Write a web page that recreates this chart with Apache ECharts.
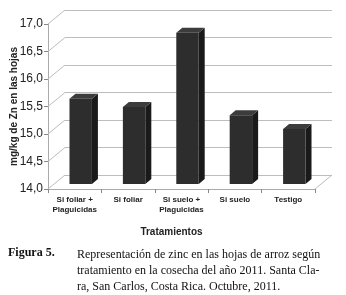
<!DOCTYPE html>
<html>
<head>
<meta charset="utf-8">
<script src="https://cdn.jsdelivr.net/npm/echarts@6/dist/echarts.min.js"></script>
<style>
  html, body { margin: 0; padding: 0; background: #fff; }
  #main { width: 346px; height: 295px; }
</style>
</head>
<body>
<div id="main"></div>
<script>
  // datos
  var tratamientos = ['Si foliar +\nPlaguicidas', 'Si foliar', 'Si suelo +\nPlaguicidas', 'Si suelo', 'Testigo'];
  var zinc = [15.55, 15.4, 16.75, 15.25, 15.0];
  var yTicks = [14, 14.5, 15, 15.5, 16, 16.5, 17];

  // desplazamiento de la pared del fondo (efecto 3D)
  var DX = 17, DY = -14;

  var myChart = echarts.init(document.getElementById('main'));

  var option = {
    backgroundColor: '#fff',
    animation: false,
    grid: [
      // pared del fondo
      { left: 48 + DX, top: 24 + DY, width: 267, height: 165, outerBoundsMode: 'none', containLabel: false },
      // plano frontal
      { left: 48, top: 24, width: 267, height: 165, outerBoundsMode: 'none', containLabel: false }
    ],
    xAxis: [
      {
        gridIndex: 0, type: 'category', data: tratamientos,
        show: false
      },
      {
        gridIndex: 1, type: 'category', data: tratamientos,
        axisLine: { lineStyle: { color: '#aaa', width: 1 } },
        axisTick: { show: true, alignWithLabel: false, length: 4, lineStyle: { color: '#888' } },
        axisLabel: {
          color: '#222', fontSize: 8, fontWeight: 'bold', fontFamily: 'Liberation Sans',
          lineHeight: 10, margin: 6, interval: 0
        },
        name: 'Tratamientos',
        nameLocation: 'middle',
        nameGap: 38,
        nameMoveOverlap: false,
        nameTextStyle: { color: '#222', fontSize: 10, fontWeight: 'bold', fontFamily: 'Liberation Sans', padding: [0, 20, 0, 0] }
      }
    ],
    yAxis: [
      {
        gridIndex: 0, type: 'value', min: 14, max: 17, interval: 0.5,
        axisLine: { show: false }, axisTick: { show: false }, axisLabel: { show: false },
        splitLine: { show: true, lineStyle: { color: '#bdbdbd', width: 1 } }
      },
      {
        gridIndex: 1, type: 'value', min: 14, max: 17, interval: 0.5,
        axisLine: { show: true, lineStyle: { color: '#aaa' } },
        axisTick: { show: true, length: 4, lineStyle: { color: '#888' } },
        splitLine: { show: false },
        axisLabel: {
          color: '#222', fontSize: 12, fontFamily: 'Liberation Sans', margin: 5,
          formatter: function (v) { return v.toFixed(1).replace('.', ','); }
        },
        name: 'mg/kg de Zn en las hojas',
        nameLocation: 'middle',
        nameGap: 29,
        nameRotate: 90,
        nameMoveOverlap: false,
        nameTextStyle: { color: '#222', fontSize: 10, fontWeight: 'bold', fontFamily: 'Liberation Sans' }
      }
    ],
    graphic: [
      {
        type: 'text', left: 8, top: 247,
        style: { text: 'Figura 5.', font: 'bold 12px "Liberation Serif"', fill: '#111' }
      },
      {
        type: 'text', left: 77, top: 247,
        style: {
          text: 'Representación de zinc en las hojas de arroz según\ntratamiento en la cosecha del año 2011. Santa Cla-\nra, San Carlos, Costa Rica. Octubre, 2011.',
          font: '12px "Liberation Serif"', fill: '#111', lineHeight: 16
        }
      }
    ],
    series: [
      {
        // lineas oblicuas de la pared lateral y del piso
        type: 'custom',
        xAxisIndex: 1, yAxisIndex: 1,
        silent: true,
        data: yTicks,
        renderItem: function (params, api) {
          var cs = params.coordSys;
          var p = api.coord([0, api.value(0)]);
          var children = [{
            type: 'line',
            shape: { x1: cs.x, y1: p[1], x2: cs.x + DX, y2: p[1] + DY },
            style: { stroke: '#bdbdbd', lineWidth: 1 }
          }];
          if (params.dataIndex === 0) {
            children.push({
              type: 'line',
              shape: { x1: cs.x + cs.width, y1: p[1], x2: cs.x + cs.width + DX, y2: p[1] + DY },
              style: { stroke: '#bdbdbd', lineWidth: 1 }
            });
          }
          return { type: 'group', children: children };
        },
        encode: { y: 0 },
        z: 1
      },
      {
        // barras con efecto 3D
        type: 'custom',
        xAxisIndex: 1, yAxisIndex: 1,
        data: zinc.map(function (v, i) { return [i, v]; }),
        renderItem: function (params, api) {
          var top = api.coord([api.value(0), api.value(1)]);
          var base = api.coord([api.value(0), 14]);
          var band = api.size([1, 0])[0];
          var w = band * 0.42;
          var ox = 6, oy = -5;   // desplazamiento de la cara frontal
          var dx = 6, dy = -5;   // profundidad de la barra
          var x0 = top[0] - w / 2 + ox;
          var x1 = x0 + w;
          var yt = top[1] + oy;
          var yb = base[1] + oy;
          return {
            type: 'group',
            children: [
              {
                type: 'polygon',
                shape: { points: [[x1, yt], [x1 + dx, yt + dy], [x1 + dx, yb + dy], [x1, yb]] },
                style: { fill: '#1a1a1a' }
              },
              {
                type: 'polygon',
                shape: { points: [[x0, yt], [x0 + dx, yt + dy], [x1 + dx, yt + dy], [x1, yt]] },
                style: { fill: '#3c3c3c' }
              },
              {
                type: 'rect',
                shape: { x: x0, y: yt, width: w, height: yb - yt },
                style: { fill: '#2d2d2d' }
              }
            ]
          };
        },
        encode: { x: 0, y: 1 },
        z: 3
      }
    ]
  };

  myChart.setOption(option);
</script>
</body>
</html>
